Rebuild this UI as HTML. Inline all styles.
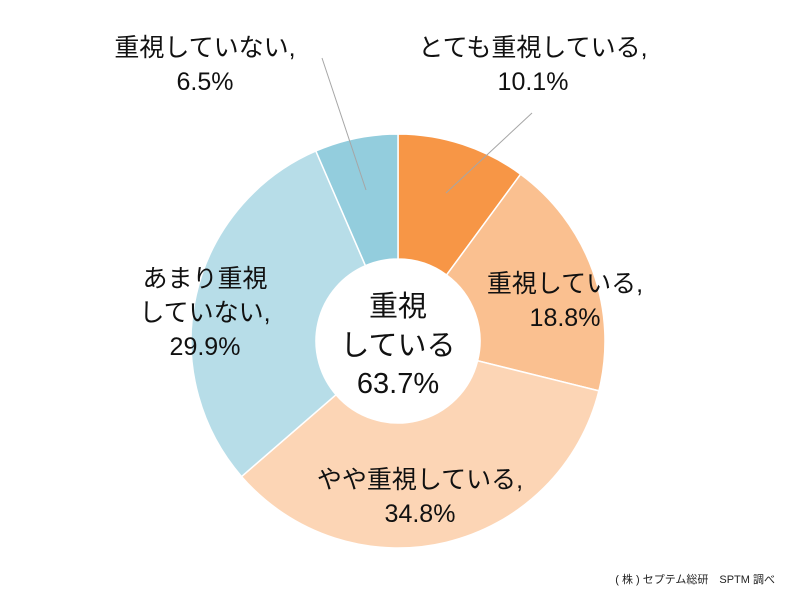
<!DOCTYPE html>
<html><head><meta charset="utf-8"><style>
body{margin:0;background:#fff;}
svg{display:block;font-family:"Liberation Sans","Noto Sans CJK JP",sans-serif;}
</style></head><body>
<svg width="800" height="605" viewBox="0 0 800 605">
<g id="slices"></g>
<g id="labels"></g>
<line x1="532" y1="113" x2="446" y2="193" stroke="#a6a6a6" stroke-width="1"/>
<line x1="322" y1="58" x2="366" y2="190" stroke="#a6a6a6" stroke-width="1"/>
<g font-size="29" fill="#111" text-anchor="middle">
<text x="398" y="316">重視</text>
<text x="398" y="355">している</text>
<text x="398" y="393">63.7%</text>
</g>
<text x="775" y="583" font-size="11" fill="#222" text-anchor="end">( 株 ) セプテム総研　SPTM 調べ</text>
</svg>
<script>
const categories=["とても重視している","重視している","やや重視している","あまり重視していない","重視していない"];
const values=[10.1,18.8,34.8,29.9,6.5];
const colors=["#f79646","#fac090","#fcd5b5","#b7dde8","#93cddd"];
const labelLines=[["とても重視している,","10.1%"],["重視している,","18.8%"],["やや重視している,","34.8%"],["あまり重視","していない,","29.9%"],["重視していない,","6.5%"]];
const labelPos=[[533,56],[565,292],[420,488],[205,287],[205,56]];
const cx=398,cy=341,R=207,r=82;
const ns="http://www.w3.org/2000/svg";
const total=values.reduce((a,b)=>a+b,0);
function pt(a,rad){return [cx+rad*Math.sin(a),cy-rad*Math.cos(a)];}
let acc=0;
const g=document.getElementById('slices');
values.forEach((v,i)=>{
 const a0=acc/total*2*Math.PI;acc+=v;const a1=acc/total*2*Math.PI;
 const large=(a1-a0)>Math.PI?1:0;
 const [x0,y0]=pt(a0,R),[x1,y1]=pt(a1,R),[x2,y2]=pt(a1,r),[x3,y3]=pt(a0,r);
 const p=document.createElementNS(ns,'path');
 p.setAttribute('d',`M${x0},${y0}A${R},${R} 0 ${large} 1 ${x1},${y1}L${x2},${y2}A${r},${r} 0 ${large} 0 ${x3},${y3}Z`);
 p.setAttribute('fill',colors[i]);p.setAttribute('stroke','#fff');p.setAttribute('stroke-width','1.5');
 
 
 g.appendChild(p);
});
const lg=document.getElementById('labels');
labelLines.forEach((ls,i)=>{
 const t=document.createElementNS(ns,'text');
 t.setAttribute('text-anchor','middle');t.setAttribute('font-size','25');t.setAttribute('fill','#111');
 
 
 ls.forEach((s,j)=>{const ts=document.createElementNS(ns,'tspan');ts.setAttribute('x',labelPos[i][0]);ts.setAttribute('y',labelPos[i][1]+j*34);ts.textContent=s;t.appendChild(ts);});
 lg.appendChild(t);
});
</script>
</body></html>
